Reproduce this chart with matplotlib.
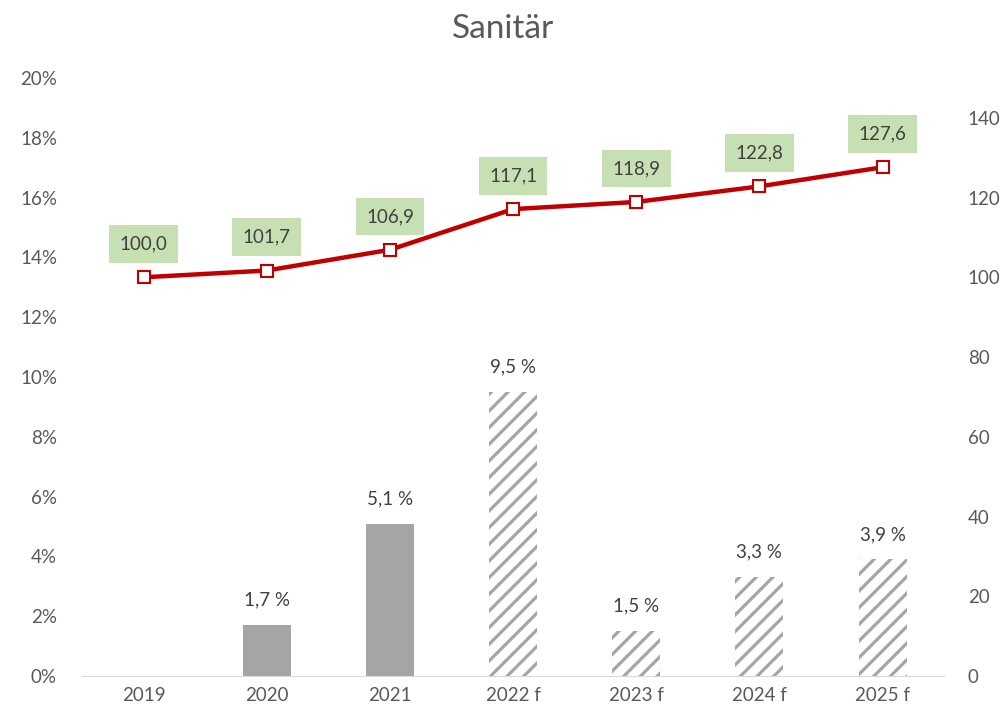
import numpy as np
import matplotlib.pyplot as plt

plt.rcParams['font.family'] = ['Lato', 'DejaVu Sans']
plt.rcParams['hatch.linewidth'] = 2.3

####
# Data
#===
years = ['2019', '2020', '2021', '2022 f', '2023 f', '2024 f', '2025 f']
growth = [0.0, 1.7, 5.1, 9.5, 1.5, 3.3, 3.9]          # % change (left axis)
index_vals = [100.0, 101.7, 106.9, 117.1, 118.9, 122.8, 127.6]  # index (right axis)
forecast = [False, False, False, True, True, True, True]

gray = '#A5A5A5'
red = '#C00000'
txt = '#404040'
tick_col = '#595959'

fig = plt.figure(figsize=(10.06, 7.15), dpi=100)
ax = fig.add_axes([0.0815, 0.0545, 0.857, 0.8365])
ax2 = ax.twinx()

x = np.arange(len(years))

####
# Bars
#===
for i, (g, f) in enumerate(zip(growth, forecast)):
    if f:
        ax.bar(x[i], g, width=0.39, color='white', edgecolor=gray, hatch='//', linewidth=0)
    else:
        ax.bar(x[i], g, width=0.39, color=gray, linewidth=0)
    if g > 0:
        ax.annotate(f"{g:.1f} %".replace('.', ','), (x[i], g), xytext=(0, 18),
                    textcoords='offset points', ha='center', va='center',
                    fontsize=13.5, color=txt)

ax.set_ylim(0, 20)
ax.set_yticks(np.arange(0, 21, 2))
ax.set_yticklabels([f"{v}%" for v in range(0, 21, 2)])
ax.set_xlim(-0.5, len(years) - 0.5)
ax.set_xticks(x)
ax.set_xticklabels(years)

####
# Line
#===
ax2.plot(x, index_vals, color=red, linewidth=3.2, marker='s', markersize=8,
         markerfacecolor='white', markeredgecolor=red, markeredgewidth=1.5, zorder=3)
for i, v in enumerate(index_vals):
    ax2.annotate(f"{v:.1f}".replace('.', ','), (x[i], v), xytext=(0, 24),
                 textcoords='offset points', ha='center', va='center',
                 fontsize=13.5, color=txt,
                 bbox=dict(boxstyle='square,pad=0.55', fc='#C6E0B4', ec='none'))
ax2.set_ylim(0, 150)
ax2.set_yticks(np.arange(0, 141, 20))

for a in (ax, ax2):
    for s in a.spines.values():
        s.set_visible(False)
    a.tick_params(length=0, labelsize=13.5, labelcolor=tick_col)
ax.spines['bottom'].set_visible(True)
ax.spines['bottom'].set_color('#D9D9D9')
ax.tick_params(axis='y', pad=18)
ax.tick_params(axis='x', pad=8)
ax2.tick_params(axis='y', pad=17)

fig.suptitle('Sanitär', fontsize=24, color=tick_col, y=0.98)

plt.savefig('out.png')
